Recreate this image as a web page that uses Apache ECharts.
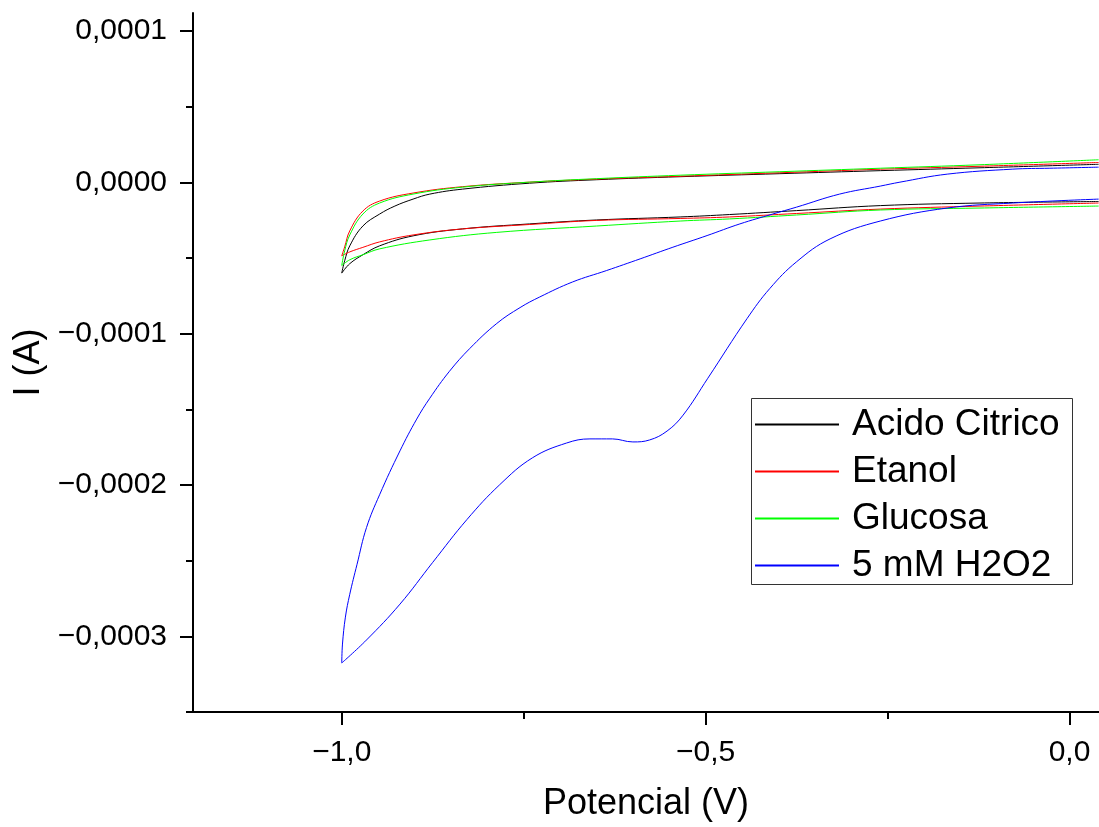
<!DOCTYPE html>
<html><head><meta charset="utf-8">
<script src="https://cdn.jsdelivr.net/npm/echarts@6/dist/echarts.min.js"></script>
<style>html,body{margin:0;padding:0;background:#fff}#c{width:1099px;height:827px}</style>
</head><body><div id="c"></div>
<script>
// ---- categories / styles of legend ----
const seriesNames = ['Acido Citrico', 'Etanol', 'Glucosa', '5 mM H2O2'];
const seriesColors = ['#000000', '#ff0000', '#00ff00', '#0000ff'];

// ---- tick values ----
const xTickValues = [-1.0, -0.5, 0.0];
const xMinorTickValues = [-0.75, -0.25];
const yTickValues = [-0.0003, -0.0002, -0.0001, 0, 0.0001];
const yMinorTickValues = [-0.00035, -0.00025, -0.00015, -0.00005, 0.00005];

// ---- data: potential (V) and current (A), each voltammogram split in two branches ----
// Acido Citrico
const citricoUpV = [0.04, -0.123, -0.26, -0.398, -0.535, -0.65, -0.742, -0.834, -0.879, -0.902, -0.927, -0.948, -0.971, -0.989, -0.996, -1.0];
const citricoUpI = [0.120e-4, 0.097e-4, 0.078e-4, 0.058e-4, 0.038e-4, 0.018e-4, -0.005e-4, -0.044e-4, -0.077e-4, -0.110e-4, -0.156e-4, -0.209e-4, -0.288e-4, -0.419e-4, -0.518e-4, -0.599e-4];
const citricoDownV = [-1.0, -0.989, -0.971, -0.948, -0.902, -0.834, -0.742, -0.65, -0.535, -0.467, -0.375, -0.26, -0.123, 0.04];
const citricoDownI = [-0.599e-4, -0.537e-4, -0.478e-4, -0.419e-4, -0.353e-4, -0.307e-4, -0.274e-4, -0.248e-4, -0.228e-4, -0.212e-4, -0.186e-4, -0.153e-4, -0.136e-4, -0.126e-4];
// Etanol
const etanolUpV = [0.04, -0.123, -0.26, -0.398, -0.535, -0.65, -0.742, -0.834, -0.902, -0.948, -0.971, -0.989, -0.996, -1.0];
const etanolUpI = [0.132e-4, 0.107e-4, 0.0875e-4, 0.064e-4, 0.041e-4, 0.022e-4, 0.002e-4, -0.028e-4, -0.070e-4, -0.123e-4, -0.189e-4, -0.320e-4, -0.426e-4, -0.485e-4];
const etanolDownV = [-1.0, -0.989, -0.971, -0.948, -0.902, -0.834, -0.742, -0.65, -0.535, -0.467, -0.375, -0.26, -0.123, 0.04];
const etanolDownI = [-0.485e-4, -0.459e-4, -0.429e-4, -0.393e-4, -0.347e-4, -0.307e-4, -0.278e-4, -0.251e-4, -0.238e-4, -0.228e-4, -0.205e-4, -0.176e-4, -0.156e-4, -0.136e-4];
// Glucosa
const glucosaUpV = [0.04, -0.123, -0.26, -0.398, -0.535, -0.65, -0.742, -0.834, -0.902, -0.948, -0.971, -0.989, -0.996, -1.0];
const glucosaUpI = [0.150e-4, 0.117e-4, 0.094e-4, 0.071e-4, 0.048e-4, 0.025e-4, 0.002e-4, -0.031e-4, -0.077e-4, -0.136e-4, -0.209e-4, -0.347e-4, -0.452e-4, -0.549e-4];
const glucosaDownV = [-1.0, -0.989, -0.971, -0.948, -0.879, -0.787, -0.65, -0.535, -0.467, -0.375, -0.26, -0.123, 0.04];
const glucosaDownI = [-0.549e-4, -0.511e-4, -0.478e-4, -0.439e-4, -0.380e-4, -0.330e-4, -0.288e-4, -0.255e-4, -0.241e-4, -0.215e-4, -0.182e-4, -0.169e-4, -0.156e-4];
// 5 mM H2O2
const h2o2UpV = [0.04, -0.027, -0.078, -0.168, -0.233, -0.26, -0.316, -0.375, -0.408, -0.453, -0.498, -0.545, -0.59, -0.636, -0.683, -0.728, -0.755, -0.787, -0.824, -0.852, -0.879, -0.897, -0.92, -0.948, -0.966, -0.979, -0.989, -0.995, -0.999, -1.0];
const h2o2UpI = [0.101e-4, 0.094e-4, 0.088e-4, 0.055e-4, 0.002e-4, -0.024e-4, -0.077e-4, -0.163e-4, -0.209e-4, -0.274e-4, -0.351e-4, -0.428e-4, -0.505e-4, -0.582e-4, -0.658e-4, -0.757e-4, -0.827e-4, -0.932e-4, -1.097e-4, -1.248e-4, -1.426e-4, -1.564e-4, -1.774e-4, -2.064e-4, -2.281e-4, -2.524e-4, -2.722e-4, -2.873e-4, -3.051e-4, -3.176e-4];
const h2o2DownV = [-1.0, -0.966, -0.92, -0.875, -0.828, -0.783, -0.738, -0.691, -0.659, -0.628, -0.6, -0.577, -0.553, -0.531, -0.497, -0.443, -0.412, -0.375, -0.329, -0.26, -0.168, -0.078, 0.04];
const h2o2DownI = [-3.176e-4, -3.024e-4, -2.787e-4, -2.511e-4, -2.228e-4, -1.998e-4, -1.820e-4, -1.722e-4, -1.695e-4, -1.695e-4, -1.715e-4, -1.702e-4, -1.643e-4, -1.538e-4, -1.294e-4, -0.899e-4, -0.702e-4, -0.524e-4, -0.373e-4, -0.255e-4, -0.169e-4, -0.136e-4, -0.110e-4];

const branches = [
  [0, citricoUpV, citricoUpI], [0, citricoDownV, citricoDownI],
  [1, etanolUpV, etanolUpI], [1, etanolDownV, etanolDownI],
  [2, glucosaUpV, glucosaUpI], [2, glucosaDownV, glucosaDownI],
  [3, h2o2UpV, h2o2UpI], [3, h2o2DownV, h2o2DownI]
];

const FONT = '"Liberation Sans", Arial, sans-serif';
const fmtX = v => (v < -1e-9 ? '\u2212' : '') + Math.abs(v).toFixed(1).replace('.', ',');
const fmtY = v => (v < -1e-12 ? '\u2212' : '') + Math.abs(v).toFixed(4).replace('.', ',');

const series = branches.map(([k, V, I]) => ({
  type: 'line',
  name: seriesNames[k],
  color: seriesColors[k],
  data: V.map((x, j) => [x, I[j]]),
  xAxisIndex: 0, yAxisIndex: 0,
  symbol: 'none', showSymbol: false,
  smooth: 0.4,
  lineStyle: { color: seriesColors[k], width: 1 },
  itemStyle: { color: seriesColors[k] },
  z: 2 + k,
  animation: false
}));

const chart = echarts.init(document.getElementById('c'), null, { renderer: 'canvas' });
chart.setOption({
  backgroundColor: '#ffffff',
  animation: false,
  grid: { left: 193, right: 0, top: 13, bottom: 110 },
  xAxis: [{
    type: 'value', min: -1.2044, max: 0.0405,
    name: 'Potencial (V)', nameLocation: 'middle', nameGap: 74,
    nameTextStyle: { fontSize: 36, color: '#000', fontFamily: FONT },
    axisLine: { show: true, onZero: false, lineStyle: { color: '#000', width: 2 } },
    axisTick: { show: true, inside: false, customValues: xTickValues, length: 13, lineStyle: { color: '#000', width: 2 } },
    axisLabel: { show: true, customValues: xTickValues, formatter: fmtX, fontSize: 30, color: '#000', fontFamily: FONT, margin: 26 },
    splitLine: { show: false }
  }, {
    type: 'value', min: -1.2044, max: 0.0405, position: 'bottom', offset: 0,
    axisLine: { show: false, onZero: false },
    axisTick: { show: true, inside: false, customValues: xMinorTickValues, length: 7, lineStyle: { color: '#000', width: 2 } },
    axisLabel: { show: false },
    splitLine: { show: false }
  }],
  yAxis: [{
    type: 'value', min: -0.00035, max: 0.000112,
    name: 'I (A)', nameLocation: 'middle', nameGap: 142,
    nameTextStyle: { fontSize: 36, color: '#000', fontFamily: FONT },
    axisLine: { show: true, onZero: false, lineStyle: { color: '#000', width: 2 } },
    axisTick: { show: true, inside: false, customValues: yTickValues, length: 13, lineStyle: { color: '#000', width: 2 } },
    axisLabel: { show: true, customValues: yTickValues, formatter: fmtY, fontSize: 30, color: '#000', fontFamily: FONT, margin: 26 },
    splitLine: { show: false }
  }, {
    type: 'value', min: -0.00035, max: 0.000112, position: 'left', offset: 0,
    axisLine: { show: false, onZero: false },
    axisTick: { show: true, inside: false, customValues: yMinorTickValues, length: 7, lineStyle: { color: '#000', width: 2 } },
    axisLabel: { show: false },
    splitLine: { show: false }
  }],
  legend: {
    data: seriesNames.map((n, k) => ({ name: n, icon: 'rect', itemStyle: { color: seriesColors[k], borderWidth: 0 } })),
    orient: 'vertical',
    left: 755, top: 406,
    padding: 0,
    itemWidth: 84, itemHeight: 2, itemGap: 10,
    textStyle: { fontSize: 37, lineHeight: 35, color: '#000', fontFamily: FONT, padding: [0, 0, 0, 8] }
  },
  graphic: [{
    type: 'rect', left: 751, top: 398, z: 0,
    shape: { width: 321, height: 186 },
    style: { fill: '#fff', stroke: '#333', lineWidth: 1 }
  }],
  series: series
});
</script>
</body></html>
